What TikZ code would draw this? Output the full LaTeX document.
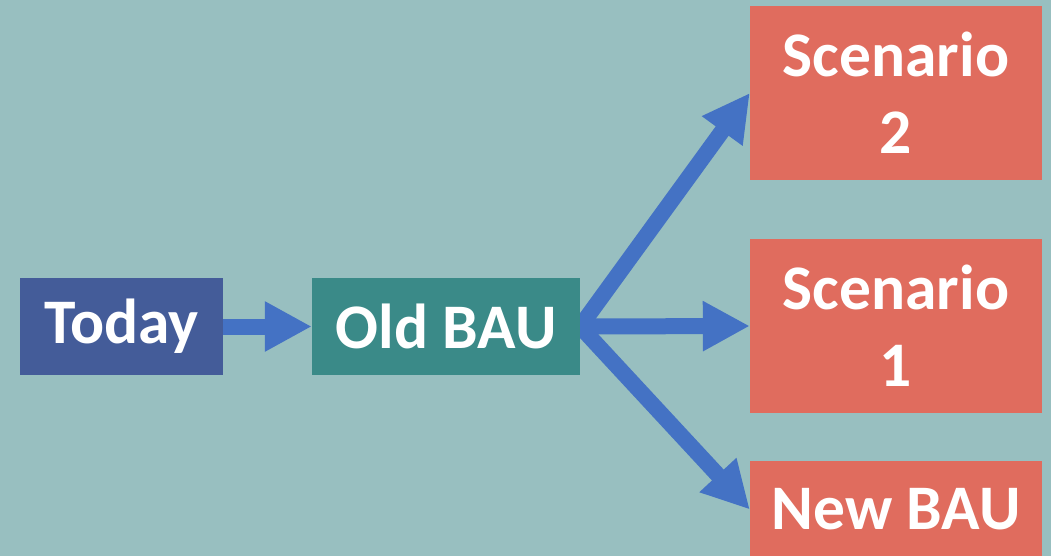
\documentclass[tikz,border=0pt]{standalone}
\usepackage{fontspec}
\setmainfont{Carlito}
\usetikzlibrary{arrows.meta}
\definecolor{bgcol}{HTML}{98BFC0}
\definecolor{todaycol}{HTML}{445C99}
\definecolor{oldcol}{HTML}{3A8A88}
\definecolor{scencol}{HTML}{E06C5E}
\definecolor{arrowcol}{HTML}{4472C4}
\pgfdeclarelayer{bg}
\pgfdeclarelayer{mid}
\pgfsetlayers{bg,mid,main}
\begin{document}
\begin{tikzpicture}[x=1pt, y=-1pt,
  box/.style={inner sep=0pt, text=white, font=\bfseries\fontsize{63.5}{77}\selectfont, align=center},
  flow/.style={draw=arrowcol, line width=16pt, -{Triangle[length=47pt, width=47pt]}}]
\useasboundingbox (0,0) rectangle (1051,556);
\begin{pgfonlayer}{bg}
\fill [bgcol] (0,0) rectangle (1051,556);
\end{pgfonlayer}
\node [box, fill=todaycol, minimum width=203pt, minimum height=97pt] (today) at (121.5,326.5) {Today};
\node [box, fill=oldcol, minimum width=268pt, minimum height=97pt] (old) at (446,326.5) {Old BAU};
\node [box, fill=scencol, minimum width=292pt, minimum height=174pt] (scen2) at (896,93) {Scenario\\2};
\node [box, fill=scencol, minimum width=292pt, minimum height=174pt] (scen1) at (896,326) {Scenario\\1};
\node [box, fill=scencol, minimum width=292pt, minimum height=97pt] (newbau) at (896,509.5) {New BAU};
\begin{pgfonlayer}{mid}
\draw [flow] (today.east) -- (old.west);
\draw [flow] (old.east) -- (scen2.west);
\draw [flow] (old.east) -- (scen1.west);
\draw [flow] (old.east) -- (newbau.west);
\end{pgfonlayer}
\end{tikzpicture}
\end{document}
